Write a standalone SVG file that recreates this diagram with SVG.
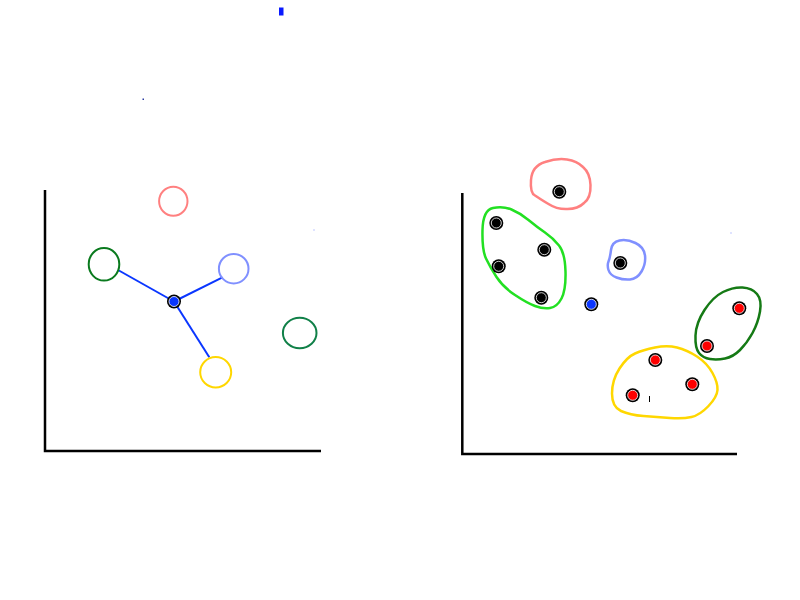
<svg xmlns="http://www.w3.org/2000/svg" width="800" height="600" viewBox="0 0 800 600">
<style>
.axis{fill:none;stroke:#000;stroke-width:2.5}
.ring{fill:none;stroke-width:2}
.blob{fill:none;stroke-width:2.5;stroke-linejoin:round}
.conn{stroke:#0a36ff;stroke-width:2;fill:none}
.dot-o{fill:#000}
.dot-i{stroke:#fff;stroke-width:0.8}
</style>
<defs>
<g id="dk"><circle r="7" class="dot-o"/><circle r="5" class="dot-i" fill="#000"/></g>
<g id="rd"><circle r="7" class="dot-o"/><circle r="5" class="dot-i" fill="#ff0000"/></g>
<g id="bl"><circle r="7" class="dot-o"/><circle r="5" class="dot-i" fill="#0a36ff"/></g>
</defs>
<rect width="800" height="600" fill="#fff"/>
<rect x="279" y="7.5" width="4.5" height="8" fill="#0a1aff"/>
<rect x="142.5" y="98.5" width="1.5" height="1.5" fill="#2a3aa0"/>
<rect x="313.5" y="229.5" width="1" height="1" fill="#8090ff"/>
<rect x="730.5" y="232.5" width="1" height="1" fill="#8090ff"/>

<g id="left-axes"><path class="axis" d="M45,190 V451 H321"/></g>
<g id="connectors">
<line class="conn" x1="174" y1="301.5" x2="118" y2="270"/>
<line class="conn" x1="174" y1="301.5" x2="222.5" y2="277.3"/>
<line class="conn" x1="174" y1="301.5" x2="209.3" y2="357.3"/>
</g>
<g id="c-pink"><ellipse class="ring" cx="173.3" cy="201.3" rx="14.2" ry="14.5" stroke="#ff8080"/></g>
<g id="c-green"><ellipse class="ring" cx="104" cy="264.3" rx="15.3" ry="16.3" stroke="#0a7a1e"/></g>
<g id="c-lightblue"><ellipse class="ring" cx="233.7" cy="268.7" rx="14.8" ry="14.8" stroke="#8090ff"/></g>
<g id="c-teal"><ellipse class="ring" cx="299.7" cy="333" rx="16.8" ry="15.2" stroke="#108048"/></g>
<g id="c-yellow"><ellipse class="ring" cx="215.7" cy="372.3" rx="15.5" ry="15.2" stroke="#ffd700"/></g>
<g id="c-center"><use href="#bl" x="174" y="301.5"/></g>

<g id="right-axes"><path class="axis" d="M462.3,193 V454 H737"/></g>
<g id="blob-pink"><path class="blob" stroke="#ff8080" d="M545,162 Q557,158 567,159.5 Q577,161 583,167 Q590,173 590.5,185 Q591,198 584,203 Q578,209 567.5,209 Q557,209.5 548.5,204 Q540,199 535,195.5 Q530,193 531,180 Q532,166 545,162 Z"/></g>
<g id="blob-lime"><path class="blob" stroke="#22e022" d="M493,208 Q503,206 511.5,209.5 Q520,213 528.5,220 Q537,227 545,232.5 Q553,238 559,245.5 Q565,253 565.5,271.5 Q566,290 561.5,298.5 Q557,307 550,308 Q543,309 535,306 Q527,303 515,295 Q503,287 496.5,277 Q490,267 486,258.5 Q482,250 482.5,230 Q483,210 493,208 Z"/></g>
<g id="blob-lightblue"><path class="blob" stroke="#8090ff" d="M619.5,240.5 Q627,239 635.5,243 Q644,247 645,255.5 Q646,264 641.5,271.5 Q637,279 630,279.5 Q623,280 616.5,277.5 Q610,275 608.5,270 Q607,265 608.5,261.5 Q610,258 611,250 Q612,242 619.5,240.5 Z"/></g>
<g id="blob-darkgreen"><path class="blob" stroke="#157a15" d="M704.5,310 Q713,297 723,292 Q733,287 742.5,287.5 Q752,288 757,294 Q762,300 760,311.5 Q758,323 752.5,333 Q747,343 740,350 Q733,357 725,358.5 Q717,360 710,359 Q703,358 699,353 Q695,348 695.5,335.5 Q696,323 704.5,310 Z"/></g>
<g id="blob-yellow"><path class="blob" stroke="#ffd700" d="M619.5,368.5 Q627,357 635,353.5 Q643,350 655,347.5 Q667,345 677,347.5 Q687,350 697,356.5 Q707,363 712.5,373 Q718,383 717.5,390 Q717,397 708.5,406 Q700,415 691.5,417 Q683,419 670,418 Q657,417 643.5,416 Q630,415 621,411 Q612,407 612,393.5 Q612,380 619.5,368.5 Z"/></g>

<g id="p1"><use href="#dk" x="559.3" y="191.7"/></g>
<g id="p2"><use href="#dk" x="496.3" y="223"/></g>
<g id="p3"><use href="#dk" x="544.3" y="249.7"/></g>
<g id="p4"><use href="#dk" x="498.7" y="266.3"/></g>
<g id="p5"><use href="#dk" x="541.3" y="297.7"/></g>
<g id="p6"><use href="#dk" x="620.3" y="263"/></g>
<g id="p-blue"><use href="#bl" x="591.3" y="304.3"/></g>
<g id="r1"><use href="#rd" x="739.3" y="308.3"/></g>
<g id="r2"><use href="#rd" x="707" y="346"/></g>
<g id="r3"><use href="#rd" x="655.3" y="360"/></g>
<g id="r4"><use href="#rd" x="692.3" y="384.3"/></g>
<g id="r5"><use href="#rd" x="632.7" y="395.3"/></g>
<line x1="649.5" y1="396" x2="649.5" y2="402" stroke="#000" stroke-width="1"/>
</svg>
